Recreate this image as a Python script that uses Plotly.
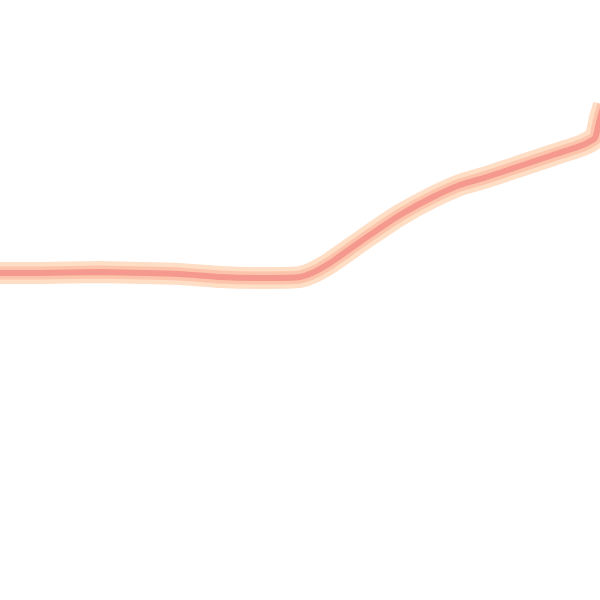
import plotly.graph_objects as go

# line path (x across, y down)
xs = [-10, 0, 40, 100, 143, 180, 220, 260, 300, 312, 330, 367, 400, 433, 460, 487, 517, 553, 583, 595, 600, 604]
ys = [273, 273, 273, 272, 273, 274, 277, 278, 277, 273, 263, 237, 215, 197, 185, 177, 167, 155, 145, 138, 118, 105]

fig = go.Figure()
fig.add_trace(go.Scatter(x=xs, y=ys, mode="lines",
                         line=dict(color="rgb(255,222,198)", width=22, shape="spline", smoothing=0.4)))
fig.add_trace(go.Scatter(x=xs, y=ys, mode="lines",
                         line=dict(color="rgb(252,196,170)", width=13, shape="spline", smoothing=0.4)))
fig.add_trace(go.Scatter(x=xs, y=ys, mode="lines",
                         line=dict(color="rgb(245,152,142)", width=6, shape="spline", smoothing=0.4)))

fig.update_layout(width=600, height=600, margin=dict(l=0, r=0, t=0, b=0),
                  paper_bgcolor="white", plot_bgcolor="white", showlegend=False,
                  hovermode=False)
fig.update_xaxes(visible=False, range=[0, 600])
fig.update_yaxes(visible=False, range=[600, 0])
fig.write_html("out.html", config={"displayModeBar": False, "staticPlot": True},
               post_script="document.body.style.margin='0';document.body.style.overflow='hidden';")
